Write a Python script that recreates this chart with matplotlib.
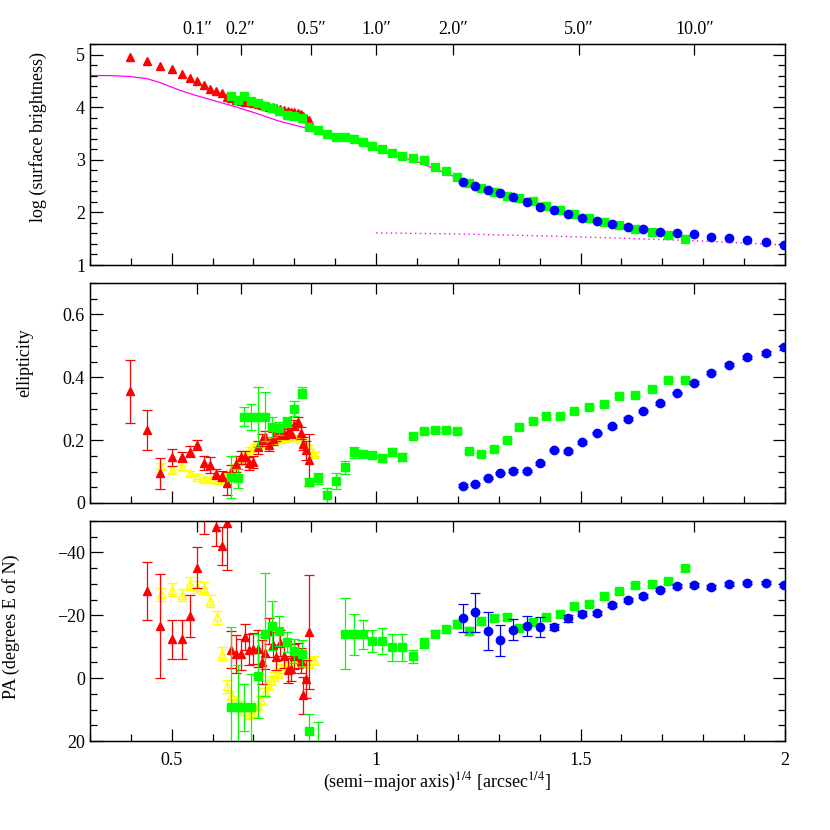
import numpy as np
import matplotlib
matplotlib.use("Agg")
from matplotlib import pyplot as plt
from matplotlib.ticker import MultipleLocator, NullLocator

plt.rcParams['font.family'] = ['Liberation Serif', 'DejaVu Serif']
plt.rcParams['mathtext.fontset'] = 'stix'

nan = np.nan

# red filled triangles
r_x = [0.398, 0.440, 0.472, 0.500, 0.524, 0.544, 0.562, 0.579, 0.594, 0.609,
       0.622, 0.635, 0.646, 0.658, 0.669, 0.680, 0.690, 0.700, 0.710, 0.720,
       0.729, 0.738, 0.747, 0.756, 0.765, 0.775, 0.784, 0.792, 0.800, 0.808,
       0.815, 0.821, 0.828, 0.836]
r_sb = [4.95, 4.87, 4.79, 4.72, 4.63, 4.56, 4.50, 4.42, 4.35, 4.31,
        4.26, 4.20, 4.17, 4.14, 4.12, 4.10, 4.09, 4.08, 4.06, 4.04,
        4.03, 4.01, 4.00, 3.98, 3.96, 3.94, 3.92, 3.91, 3.90, 3.89,
        3.87, 3.84, 3.80, 3.76]
r_eps = [0.356, 0.232, 0.094, 0.145, 0.145, 0.163, 0.183, 0.128, 0.121, 0.091,
         0.086, 0.062, 0.100, 0.123, 0.145, 0.145, 0.126, 0.131, 0.177, 0.200,
         0.210, 0.184, 0.205, 0.216, 0.225, 0.219, 0.226, 0.222, 0.248, 0.258,
         0.222, 0.189, 0.168, 0.138]
r_eps_err = [0.100, 0.065, 0.048, 0.028, 0.016, 0.017, 0.016, 0.022, 0.025, 0.016,
             0.016, 0.037, 0.020, 0.026, 0.020, 0.020, 0.020, 0.020, 0.020, 0.020,
             0.020, 0.020, 0.020, 0.020, 0.015, 0.015, 0.015, 0.015, 0.015, 0.015,
             0.020, 0.020, 0.030, 0.083]
r_pa = [nan, -27.7, -16.5, -12.3, -12.3, -19.7, -35.2, -52.0, nan, -48.0,
        -42.0, -49.5, -9.1, -7.6, -7.6, -13.1, -9.1, -9.4, -9.4, -5.1,
        -8.0, -15.0, -10.6, -6.7, -11.2, -7.2, -2.5, -3.0, -6.9, -7.2,
        -5.6, 5.5, 0.2, -14.7]
r_pa_err = [0, 9.3, 16.5, 6.2, 6.2, 6.6, 6.4, 6.0, 0, 6.0,
            6.0, 15.0, 6.0, 6.0, 5.0, 4.0, 5.0, 5.0, 6.0, 7.0,
            5.0, 4.0, 4.0, 4.0, 4.0, 4.0, 4.0, 4.0, 4.0, 4.0,
            4.0, 6.0, 6.0, 18.0]

# yellow open triangles
y_x = [0.473, 0.501, 0.524, 0.544, 0.562, 0.579, 0.594, 0.610, 0.622, 0.634,
       0.645, 0.655, 0.666, 0.678, 0.690, 0.701, 0.711, 0.719, 0.727, 0.735,
       0.743, 0.751, 0.760, 0.768, 0.777, 0.788, 0.800, 0.812, 0.824, 0.837,
       0.849]
y_eps = [0.117, 0.105, 0.113, 0.094, 0.084, 0.075, 0.075, 0.072, 0.073, 0.084,
         0.100, 0.118, 0.135, 0.152, 0.170, 0.180, 0.185, 0.188, 0.190, 0.195,
         0.198, 0.200, 0.203, 0.205, 0.208, 0.210, 0.210, 0.205, 0.195, 0.178,
         0.155]
y_pa = [-26.7, -28.2, -26.4, -30.1, -29.0, -28.7, -24.6, -19.3, -7.8, 2.6,
        5.5, 7.1, 8.7, 10.3, 11.4, 11.0, 8.7, 7.1, 4.5, 2.3,
        0.7, -0.5, -1.6, -3.0, -4.1, -5.1, -5.9, -5.7, -5.1, -4.8,
        -5.7]
y_eps_err = [0.009] * 8 + [0.007] * 23
y_pa_err = [2.0] * 10 + [1.5] * 21

# green squares
g_x = [0.646, 0.662, 0.676, 0.693, 0.711, 0.727, 0.745, 0.763, 0.781, 0.800,
       0.819, 0.837, 0.859, 0.880, 0.902, 0.923, 0.946, 0.968, 0.991, 1.015,
       1.040, 1.064, 1.091, 1.117, 1.144, 1.170, 1.198, 1.227, 1.257, 1.288,
       1.319, 1.350, 1.383, 1.415, 1.450, 1.485, 1.521, 1.558, 1.595, 1.633,
       1.674, 1.715, 1.755]
g_sb = [4.21, 4.13, 4.21, 4.11, 4.07, 4.03, 3.98, 3.92, 3.86, 3.83,
        3.79, 3.62, 3.56, 3.49, 3.44, 3.44, 3.40, 3.34, 3.27, 3.20,
        3.13, 3.08, 3.04, 2.99, 2.87, 2.79, 2.68, 2.56, 2.46, 2.38,
        2.32, 2.27, 2.21, 2.13, 2.04, 1.97, 1.89, 1.81, 1.76, 1.69,
        1.62, 1.57, 1.49]
g_eps = [0.084, 0.078, 0.274, 0.274, 0.274, 0.274, 0.242, 0.237, 0.258, 0.300,
         0.351, 0.068, 0.078, 0.025, 0.070, 0.113, 0.161, 0.156, 0.152, 0.142,
         0.163, 0.147, 0.214, 0.229, 0.232, 0.231, 0.229, 0.164, 0.156, 0.171,
         0.199, 0.242, 0.262, 0.276, 0.276, 0.292, 0.304, 0.315, 0.341, 0.345,
         0.364, 0.392, 0.392]
g_eps_err = [0.067, 0.030, 0.030, 0.042, 0.095, 0.078, 0.032, 0.020, 0.016, 0.023,
             0.018, 0.013, 0.017, 0.024, 0.025, 0.022, 0.018, 0.010, 0.010, 0.012,
             0.012, 0.012, 0.008, 0.006, 0.006, 0.006, 0.006, 0.006, 0.006, 0.006,
             0.006, 0.006, 0.005, 0.005, 0.005, 0.005, 0.005, 0.005, 0.005, 0.005,
             0.005, 0.005, 0.005]
g_pa = [9.3, 9.3, 9.3, 9.3, -0.7, -13.9, -16.6, -15.0, -11.5, -8.6,
        -7.8, 16.9, 25.0, nan, nan, -14.2, -14.0, -14.0, -11.7, -11.8,
        -9.9, -9.9, -6.9, -11.2, -14.2, -15.5, -17.3, -15.0, -18.1, -19.2,
        -19.5, -16.0, -17.8, -19.3, -20.5, -23.0, -23.7, -26.1, -27.6, -29.5,
        -30.0, -30.8, -34.9]
g_pa_err = [25.6, 13.4, 7.4, 10.6, 13.3, 19.7, 7.8, 4.8, 3.2, 3.7,
            4.3, 5.5, 11.0, 0, 0, 11.2, 6.5, 4.6, 3.5, 4.0,
            4.3, 4.3, 2.0, 1.5, 1.2, 1.2, 1.2, 1.2, 1.2, 1.0,
            1.0, 1.0, 1.0, 1.0, 1.0, 0.8, 0.8, 0.8, 0.8, 0.8,
            0.8, 0.8, 0.8]

# blue circles
b_x = [1.213, 1.243, 1.273, 1.303, 1.335, 1.368, 1.400, 1.434, 1.469, 1.503,
       1.540, 1.577, 1.615, 1.654, 1.694, 1.735, 1.777, 1.820, 1.863, 1.908,
       1.954, 1.998]
b_sb = [2.57, 2.50, 2.43, 2.37, 2.29, 2.19, 2.11, 2.04, 1.97, 1.90,
        1.84, 1.78, 1.73, 1.69, 1.63, 1.61, 1.58, 1.54, 1.51, 1.48,
        1.44, 1.38]
b_eps = [0.055, 0.060, 0.079, 0.096, 0.103, 0.101, 0.126, 0.168, 0.164, 0.193,
         0.223, 0.244, 0.268, 0.292, 0.317, 0.350, 0.383, 0.415, 0.440, 0.463,
         0.478, 0.496]
b_eps_err = [0.004] * 20 + [0.007, 0.008]
b_pa = [-19.2, -20.9, -15.0, -12.0, -15.4, -16.6, -16.3, -16.3, -19.0, -20.5,
        -20.7, -23.2, -24.8, -26.2, -28.2, -29.2, -29.6, -29.0, -29.9, -30.4,
        -30.4, -29.6]
b_pa_err = [4.5, 6.3, 5.9, 5.0, 3.4, 3.2, 3.2, 1.0, 1.0, 0.8,
            0.6, 0.6, 0.6, 0.6, 0.6, 0.6, 0.6, 0.6, 0.6, 0.6,
            0.6, 0.6]

# model profiles (magenta)
m_x = [0.30, 0.35, 0.40, 0.44, 0.47, 0.50, 0.52, 0.56, 0.60, 0.65, 0.70, 0.76,
       0.85, 0.93, 1.01, 1.09, 1.15, 1.21, 1.29, 1.37, 1.45, 1.54, 1.62]
m_sb = [4.60, 4.60, 4.58, 4.54, 4.47, 4.38, 4.32, 4.22, 4.13, 4.02, 3.90, 3.74,
        3.56, 3.38, 3.16, 2.99, 2.81, 2.62, 2.43, 2.25, 2.03, 1.86, 1.75]
d_x = [1.0, 1.2, 1.4, 1.6, 1.8, 2.0]
d_sb = [1.61, 1.59, 1.555, 1.51, 1.455, 1.38]

arcsec = [0.1, 0.2, 0.5, 1.0, 2.0, 5.0, 10.0]
arcsec_lab = ["0.1\u2033", "0.2\u2033", "0.5\u2033", "1.0\u2033", "2.0\u2033", "5.0\u2033", "10.0\u2033"]

fig = plt.figure(figsize=(8.3, 8.3), dpi=100)
left, width = 0.1084, 0.8373
ax1 = fig.add_axes([left, 0.6807, width, 0.2663])
ax2 = fig.add_axes([left, 0.3940, width, 0.2651])
ax3 = fig.add_axes([left, 0.1072, width, 0.2651])

ms = 5.5
eb = dict(ls="none", capsize=3.5, elinewidth=0.9, capthick=0.9)

# surface brightness
ax1.plot(m_x, m_sb, color="magenta", lw=0.9, zorder=1)
ax1.plot(d_x, d_sb, color="magenta", lw=1.0, ls=(0, (1, 2.5)), zorder=1)
ax1.plot(r_x, r_sb, "^", color="red", ms=ms, ls="none", zorder=2)
ax1.plot(g_x, g_sb, "s", color="#00ff00", ms=ms, ls="none", zorder=3)
ax1.plot(b_x, b_sb, "o", color="blue", ms=ms + 0.5, ls="none", zorder=4)

# ellipticity
ax2.errorbar(y_x, y_eps, yerr=y_eps_err, fmt="^", color="yellow", mfc="none",
             mec="yellow", mew=1.0, ms=ms, zorder=1, **eb)
ax2.errorbar(r_x, r_eps, yerr=r_eps_err, fmt="^", color="red", ms=ms, zorder=2, **eb)
ax2.errorbar(g_x, g_eps, yerr=g_eps_err, fmt="s", color="#00ff00", ms=ms, zorder=3, **eb)
ax2.errorbar(b_x, b_eps, yerr=b_eps_err, fmt="o", color="blue", ms=ms + 0.5, zorder=4, **eb)

# position angle
ax3.errorbar(y_x, y_pa, yerr=y_pa_err, fmt="^", color="yellow", mfc="none",
             mec="yellow", mew=1.0, ms=ms, zorder=1, **eb)
ax3.errorbar(r_x, r_pa, yerr=r_pa_err, fmt="^", color="red", ms=ms, zorder=2, **eb)
ax3.errorbar(g_x, g_pa, yerr=g_pa_err, fmt="s", color="#00ff00", ms=ms, zorder=3, **eb)
ax3.errorbar(b_x, b_pa, yerr=b_pa_err, fmt="o", color="blue", ms=ms + 0.5, zorder=4, **eb)

ax1.set_ylim(1, 5.2)
ax1.yaxis.set_major_locator(MultipleLocator(1))
ax1.yaxis.set_minor_locator(MultipleLocator(0.2))
ax2.set_ylim(0, 0.7)
ax2.yaxis.set_major_locator(MultipleLocator(0.2))
ax2.yaxis.set_minor_locator(MultipleLocator(0.05))
ax2.set_yticks([0, 0.2, 0.4, 0.6], ["0", "0.2", "0.4", "0.6"])
ax3.set_ylim(20, -50)
ax3.yaxis.set_major_locator(MultipleLocator(20))
ax3.yaxis.set_minor_locator(MultipleLocator(5))

ax1.set_ylabel("log (surface brightness)", fontsize=13)
ax2.set_ylabel("ellipticity", fontsize=13)
ax3.set_ylabel("PA (degrees E of N)", fontsize=13)
ax1.yaxis.set_label_coords(-0.062, 0.58)
ax2.yaxis.set_label_coords(-0.082, 0.64)
ax3.yaxis.set_label_coords(-0.100, 0.52)
ax3.set_xlabel("(semi\u2212major axis)$^{1/4}$ [arcsec$^{1/4}$]", fontsize=13, labelpad=1)

for i, ax in enumerate([ax1, ax2, ax3]):
    ax.set_xlim(0.3, 2)
    ax.xaxis.set_major_locator(MultipleLocator(0.5))
    ax.xaxis.set_minor_locator(MultipleLocator(0.1))
    ax.set_xticks([0.5, 1, 1.5, 2], ["0.5", "1", "1.5", "2"])
    ax.tick_params(which="both", direction="in", top=False, right=True,
                   labelsize=13, width=0.9)
    ax.tick_params(which="major", length=9)
    ax.tick_params(which="minor", length=5)
    ax.tick_params(axis="x", labelbottom=(i == 2), pad=8)
    for s in ax.spines.values():
        s.set_linewidth(1.0)
    tx = ax.twiny()
    tx.set_xlim(0.3, 2)
    tx.set_xticks(np.array(arcsec) ** 0.25, arcsec_lab)
    tx.xaxis.set_minor_locator(NullLocator())
    tx.tick_params(direction="in", length=8, width=0.9, labelsize=13,
                   labeltop=(i == 0), pad=4)

fig.savefig("out.png", dpi=100)
